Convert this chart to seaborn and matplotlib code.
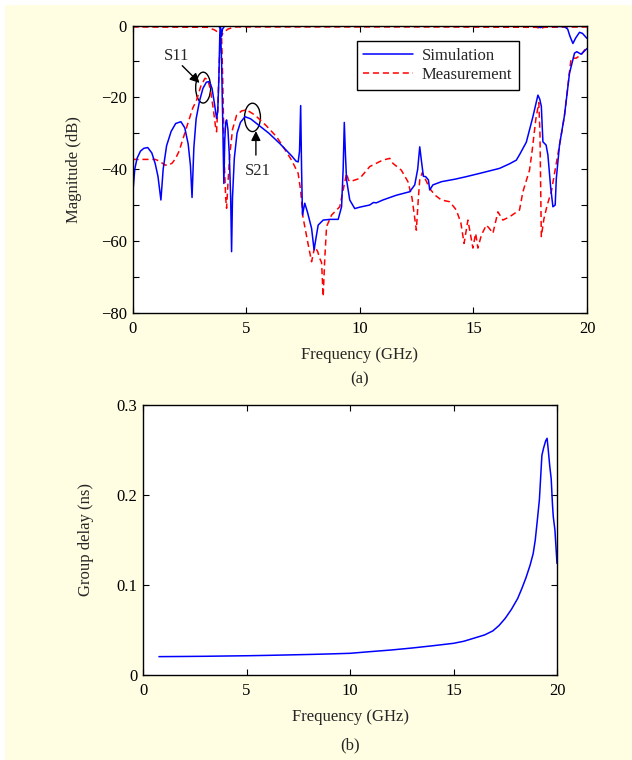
import numpy as np
import pandas as pd
import matplotlib
matplotlib.use("Agg")
import matplotlib.pyplot as plt
import seaborn as sns
from matplotlib.patches import Ellipse, Rectangle

# ---------------- data ----------------
# Simulation, lower trace (S11 below 4 GHz, S21 above)
sim_low_f = [0.0, 0.1, 0.2, 0.35, 0.5, 0.67, 0.85, 1.0, 1.12, 1.25, 1.35, 1.5, 1.7, 1.9, 2.13,
             2.3, 2.45, 2.55, 2.62, 2.7, 2.8, 2.95, 3.1, 3.25, 3.38, 3.5, 3.6, 3.7, 3.75, 3.8,
             3.84, 3.87, 3.92, 3.98, 4.02, 4.06, 4.1, 4.14, 4.2, 4.26, 4.32, 4.36, 4.4, 4.48,
             4.6, 4.75, 4.95, 5.2, 5.5, 6.0, 6.5, 7.0, 7.2, 7.29, 7.35, 7.4, 7.44, 7.48,
             7.58, 7.7, 7.88, 7.99, 8.08, 8.17, 8.39, 8.7, 9.05, 9.2, 9.27, 9.32, 9.37, 9.42, 9.56,
             9.78, 10.0, 10.44, 10.6, 10.73, 11.02, 11.6, 12.2, 12.42, 12.55, 12.64, 12.72, 12.8,
             12.9, 13.02, 13.08, 13.22, 13.6, 14.2, 14.69, 15.4, 16.15, 16.6, 16.89, 17.03, 17.33,
             17.62, 17.84, 17.92, 17.99, 18.06, 18.2, 18.28, 18.4, 18.5, 18.6, 18.65, 18.79, 19.01,
             19.23, 19.45, 19.55, 19.74, 20.0]
sim_low_db = [-47.7, -40, -37, -35, -34.2, -34.0, -35.5, -38.5, -42, -48.6, -40, -33.5, -29.5, -27.3, -26.8,
              -28.5, -33, -39, -47.9, -34, -26, -21, -17.5, -15.8, -15.6, -17.5, -21.5, -25.9, -24, -15,
              -3, -0.5, -10, -30, -44, -32, -27, -26.3, -29, -36, -48, -63, -48, -37,
              -30, -27, -25.4, -26, -27.5, -30, -33, -36.3, -37.8, -38, -35, -22.3, -40, -52.8,
              -49.5, -52, -56.5, -62.5, -59, -55.6, -54.2, -54, -54, -50.5, -40, -27, -36, -43, -48.6,
              -51, -50.6, -50, -49.3, -49.4, -48.6, -47.3, -46.3, -44.4, -40, -33.8, -38, -42,
              -42.1, -43, -45.8, -44.4, -43.5, -42.8, -42.1, -41, -39.8, -38.5, -37.5, -36, -32.5,
              -25.4, -19.4, -20.5, -22.5, -32.4, -33.3, -36.1, -45, -50.5, -50, -42.6, -33.3, -25,
              -13.3, -7.7, -7.3, -8.0, -6.4]
# Simulation, upper trace (near 0 dB)
sim_up_f = [0.0, 3.8, 3.88, 3.92, 3.96, 4.05, 8.0, 17.8, 17.95, 18.1, 19.0, 19.15, 19.25, 19.38,
            19.5, 19.67, 19.8, 20.0]
sim_up_db = [-0.1, -0.2, -1, -3, -1, -0.2, -0.1, -0.2, -0.6, -0.2, -0.3, -1.0, -3, -5.0,
             -3.5, -1.9, -2.2, -3.6]
# Measurement, lower trace
meas_low_f = [0.0, 0.5, 1.0, 1.2, 1.4, 1.57, 1.75, 1.9, 2.05, 2.2, 2.35, 2.5, 2.65, 2.82, 3.0,
              3.19, 3.3, 3.42, 3.55, 3.65, 3.7, 3.76, 3.82, 3.87, 3.92, 3.97, 4.04, 4.1, 4.14,
              4.2, 4.28, 4.4, 4.58, 4.8, 5.02, 5.4, 5.9, 6.34,
              6.63, 7.0, 7.29, 7.4, 7.5, 7.7, 7.88, 8.02, 8.15, 8.24, 8.32, 8.39, 8.46, 8.54, 8.76,
              9.12, 9.27, 9.42, 9.5, 9.56, 10.0, 10.44, 10.88, 11.02, 11.32, 11.46, 11.83, 12.12,
              12.3, 12.49, 12.58, 12.64, 12.75, 12.9, 13.08, 13.3, 13.59, 13.96, 14.25, 14.45, 14.59,
              14.76, 14.98, 15.1, 15.2, 15.35, 15.57, 15.7, 15.86, 16.08, 16.3, 16.59, 17.03, 17.18,
              17.47, 17.59, 17.75, 17.88, 17.93, 17.99, 18.1, 18.25, 18.43, 18.79, 19.0, 19.3, 19.52,
              19.74, 20.0]
meas_low_db = [-37.3, -37.3, -37.3, -37.8, -38.8, -39, -38.3, -37, -35, -32, -29, -26, -23, -20.8, -17,
               -14.7, -15, -17.5, -23, -28, -29.6, -22, -10, -3, -3, -15, -38, -48, -50.9,
               -44, -36, -29, -25, -23.8, -23.5, -25, -28, -31,
               -33.8, -37.5, -41.2, -46, -53.3, -60, -65.8, -61.6, -63, -64.9, -66, -75.5, -65, -56,
               -52.8, -50.5, -45.8, -41.2, -43, -43.5, -42.6, -39.3, -37.9, -37.5, -37, -38.4, -40.3,
               -43.5, -48, -57, -48, -43, -41, -43, -45.4, -47.2, -48.6, -49.1, -51.4, -55, -60.7,
               -54.2, -62, -57.9, -62, -58.4, -55.6, -56.5, -57.9, -51.9, -54.2, -53.3, -51.4, -46.3,
               -40.3, -34.7, -26, -21.5, -30, -58.8, -54, -50, -46.3, -33.3, -25.5, -9.1, -9.1,
               -8.2, -5.9]
# Measurement, upper trace
meas_up_f = [0.0, 3.3, 3.6, 3.8, 3.9, 4.0, 4.2, 4.5, 12.6, 17.8, 17.95, 18.1, 20.0]
meas_up_db = [-0.4, -0.5, -1.2, -2, -3, -2, -1, -0.4, -0.4, -0.5, -1.0, -0.5, -0.4]

# Group delay
gd_f = [0.77, 2, 3, 4, 5, 6, 7, 8, 9, 10, 11, 12, 13, 14, 15, 15.5, 16, 16.5, 16.9, 17.2, 17.5,
        17.8, 18.1, 18.3, 18.5, 18.7, 18.85, 18.95, 19.05, 19.15, 19.27, 19.35, 19.45, 19.52,
        19.57, 19.65, 19.72, 19.78, 19.82, 19.9, 20.0]
gd_ns = [0.0204, 0.0206, 0.0208, 0.0211, 0.0214, 0.0218, 0.0223, 0.0228, 0.0234, 0.0241, 0.026,
         0.0278, 0.030, 0.0325, 0.0352, 0.0375, 0.041, 0.0445, 0.049, 0.055, 0.063, 0.073, 0.085,
         0.096, 0.108, 0.122, 0.135, 0.150, 0.172, 0.195, 0.244, 0.252, 0.26, 0.263, 0.252, 0.232,
         0.218, 0.19, 0.176, 0.161, 0.124]

# ---------------- style ----------------
sns.set_style("ticks")
plt.rcParams["font.family"] = ["Liberation Serif", "DejaVu Serif"]
plt.rcParams["xtick.direction"] = "in"
plt.rcParams["ytick.direction"] = "in"
FS = 12
BG = "#FFFEE2"
BLUE = "#0000FF"
RED = "#FF0000"
LW = 1.1

W, H = 632, 760
fig = plt.figure(figsize=(W / 100, H / 100), dpi=100, facecolor="white")
fig.patches.append(Rectangle((5 / W, 0), 1, 1 - 5 / H, transform=fig.transFigure,
                             facecolor=BG, edgecolor="none", zorder=-10))


def px_axes(x0, y0, x1, y1):
    return fig.add_axes([x0 / W, 1 - y1 / H, (x1 - x0) / W, (y1 - y0) / H])


ax1 = px_axes(132.5, 25.5, 587, 312.7)
ax2 = px_axes(143, 405, 557, 675)

df_sl = pd.DataFrame({"f": sim_low_f, "dB": sim_low_db})
df_su = pd.DataFrame({"f": sim_up_f, "dB": sim_up_db})
df_ml = pd.DataFrame({"f": meas_low_f, "dB": meas_low_db})
df_mu = pd.DataFrame({"f": meas_up_f, "dB": meas_up_db})
df_gd = pd.DataFrame({"f": gd_f, "ns": gd_ns})

dash = (0, (4, 2.5))
sns.lineplot(data=df_ml, x="f", y="dB", ax=ax1, color=RED, lw=LW, linestyle=dash,
             estimator=None, sort=False, label="Measurement")
sns.lineplot(data=df_mu, x="f", y="dB", ax=ax1, color=RED, lw=LW, linestyle=dash,
             estimator=None, sort=False)
sns.lineplot(data=df_sl, x="f", y="dB", ax=ax1, color=BLUE, lw=LW,
             estimator=None, sort=False, label="Simulation")
sns.lineplot(data=df_su, x="f", y="dB", ax=ax1, color=BLUE, lw=LW,
             estimator=None, sort=False)

for ax in (ax1, ax2):
    ax.set_facecolor("white")
    for s in ax.spines.values():
        s.set_color("black")
        s.set_linewidth(1.0)
    ax.tick_params(top=True, right=True, length=4, width=0.8, labelsize=FS, colors="black")
    ax.tick_params(axis="x", pad=6)
    ax.tick_params(axis="y", pad=4)

ax1.set_xlim(0, 20)
ax1.set_ylim(-80, 0)
ax1.set_xticks([0, 5, 10, 15, 20])
yt = list(range(-80, 1, 10))
ax1.set_yticks(yt)
ax1.set_yticklabels([(f"\u2212{-v}" if v < 0 else "0") if v % 20 == 0 else "" for v in yt])
ax1.set_xlabel("Frequency (GHz)", fontsize=FS, labelpad=7)
ax1.set_ylabel("Magnitude (dB)", fontsize=FS, labelpad=14)

h, l = ax1.get_legend_handles_labels()
order = [l.index("Simulation"), l.index("Measurement")]
leg = ax1.legend([h[i] for i in order], [l[i] for i in order], loc="upper left",
                 bbox_to_anchor=((356.7 - 132.5) / 454.5, 1 - (41 - 25.5) / 287.2),
                 borderaxespad=0, fontsize=FS, frameon=True, fancybox=False,
                 edgecolor="black", framealpha=1, handlelength=3.0, labelspacing=0.2,
                 borderpad=0.4, handletextpad=0.5)
leg.get_frame().set_linewidth(1.0)

# annotations
ax1.add_patch(Ellipse((3.11, -17.3), 0.66, 8.6, fill=False, ec="black", lw=1.0))
ax1.add_patch(Ellipse((5.28, -25.6), 0.70, 7.9, fill=False, ec="black", lw=1.0))
ax1.annotate("", xy=(2.95, -16.0), xytext=(2.19, -11.2),
             arrowprops=dict(arrowstyle="-|>", color="black", lw=1.0, mutation_scale=14,
                             shrinkA=0, shrinkB=0))
ax1.annotate("", xy=(5.43, -29.4), xytext=(5.43, -36.1),
             arrowprops=dict(arrowstyle="-|>", color="black", lw=1.0, mutation_scale=14,
                             shrinkA=0, shrinkB=0))
ax1.text(1.94, -8.4, "S11", fontsize=FS, ha="center", va="center")
ax1.text(5.51, -40.5, "S21", fontsize=FS, ha="center", va="center")

# group delay
sns.lineplot(data=df_gd, x="f", y="ns", ax=ax2, color=BLUE, lw=LW, estimator=None, sort=False)
ax2.set_xlim(0, 20)
ax2.set_ylim(0, 0.3)
ax2.set_xticks([0, 5, 10, 15, 20])
ax2.set_yticks([0, 0.1, 0.2, 0.3])
ax2.set_yticklabels(["0", "0.1", "0.2", "0.3"])
ax2.set_xlabel("Frequency (GHz)", fontsize=FS, labelpad=7)
ax2.set_ylabel("Group delay (ns)", fontsize=FS, labelpad=16)

fig.text(360 / W, 1 - 379 / H, "(a)", fontsize=FS, ha="center", va="center")
fig.text(350 / W, 1 - 745 / H, "(b)", fontsize=FS, ha="center", va="center")

fig.savefig("out.png", dpi=100, facecolor=fig.get_facecolor())
